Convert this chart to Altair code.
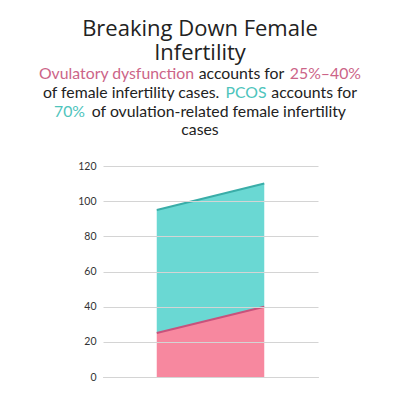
import altair as alt
import pandas as pd

# ---- data ----
x_points = ["start", "end"]
ovulatory = [25, 40]
pcos = [70, 70]
series_names = ["Ovulatory dysfunction", "PCOS"]
fill_colors = ["#F7889F", "#6AD8D3"]
line_colors = ["#C8527C", "#3AADA8"]
y_ticks = [0, 20, 40, 60, 80, 100, 120]

title_lines = ["Breaking Down Female", "Infertility"]
sub_text = ["Ovulatory dysfunction", "accounts for", "25%\u201340%",
            "of female infertility cases.", "PCOS", "accounts for",
            "70%", "of ovulation-related female infertility",
            "cases"]
sub_color = ["#CC6488", "#222222", "#CC6488",
             "#222222", "#4EC4BC", "#222222",
             "#4EC4BC", "#222222",
             "#222222"]
sub_line = [0, 0, 0, 1, 1, 1, 2, 2, 3]
sub_x = [39, 241.5, 361, 43, 246, 357, 54, 346, 200]
sub_align = ["left", "center", "right", "left", "center", "right", "left", "right", "center"]

rows = []
for i, s in enumerate(series_names):
    vals = ovulatory if i == 0 else pcos
    for xp, v in zip(x_points, vals):
        rows.append({"x": xp, "value": v, "series": s, "order": i,
                     "fill": fill_colors[i], "stroke": line_colors[i]})
df = pd.DataFrame(rows)

OX, OY = 103, 166  # plot origin on page
W, H = 215, 211

x_axis = alt.Axis(labels=False, ticks=False, title=None,
                  domainColor="#B0B0B0", domainWidth=1)
y_axis = alt.Axis(values=y_ticks, title=None,
                  domain=False, ticks=False, labelPadding=7, labelOverlap=False,
                  labelFont="Lato", labelFontSize=10.5, labelColor="#333333",
                  gridColor="#D4D4D4", gridWidth=1, zindex=1)
x_scale = alt.Scale(type="point", padding=0.5)
y_scale = alt.Scale(domain=[0, 120])

area = alt.Chart(df).mark_area(opacity=1).encode(
    x=alt.X("x:N", sort=x_points, scale=x_scale, axis=x_axis),
    y=alt.Y("value:Q", stack="zero", scale=y_scale, axis=y_axis),
    color=alt.Color("fill:N", scale=None),
    order=alt.Order("order:Q"),
)
lines = alt.Chart(df).mark_line(strokeWidth=2).encode(
    x=alt.X("x:N", sort=x_points, scale=x_scale, axis=x_axis),
    y=alt.Y("value:Q", stack="zero", scale=y_scale, axis=y_axis),
    color=alt.Color("stroke:N", scale=None),
    detail="series:N",
    order=alt.Order("x:N", sort="descending"),
)

tdf = pd.DataFrame({"t": title_lines, "y": [36 - OY, 60 - OY]})
title = alt.Chart(tdf).mark_text(font="Open Sans", fontSize=22, color="#222222",
                                 align="center", baseline="alphabetic").encode(
    x=alt.value(200 - OX), y=alt.Y("y:Q", scale=None), text="t:N")

line_y = [79, 98, 116.5, 135]
sdf = pd.DataFrame({
    "t": sub_text, "c": sub_color,
    "x": [v - OX for v in sub_x],
    "y": [line_y[l] - OY for l in sub_line],
    "a": sub_align,
})
sub_layers = []
for al in ["left", "center", "right"]:
    part = sdf[sdf["a"] == al]
    sub_layers.append(alt.Chart(part).mark_text(font="Lato", fontSize=15.8, align=al,
                                                baseline="alphabetic").encode(
        x=alt.X("x:Q", scale=None), y=alt.Y("y:Q", scale=None),
        text="t:N", color=alt.Color("c:N", scale=None)))

chart = alt.layer(area, lines, title, *sub_layers).properties(
    width=W, height=H,
    autosize="none",
    padding={"left": OX - 8, "top": OY - 8, "right": 400 - 8 - OX - W, "bottom": 400 - 8 - OY - H},
).configure_view(stroke=None)

chart.save("out.html", embed_options={"renderer": "svg", "actions": False})
